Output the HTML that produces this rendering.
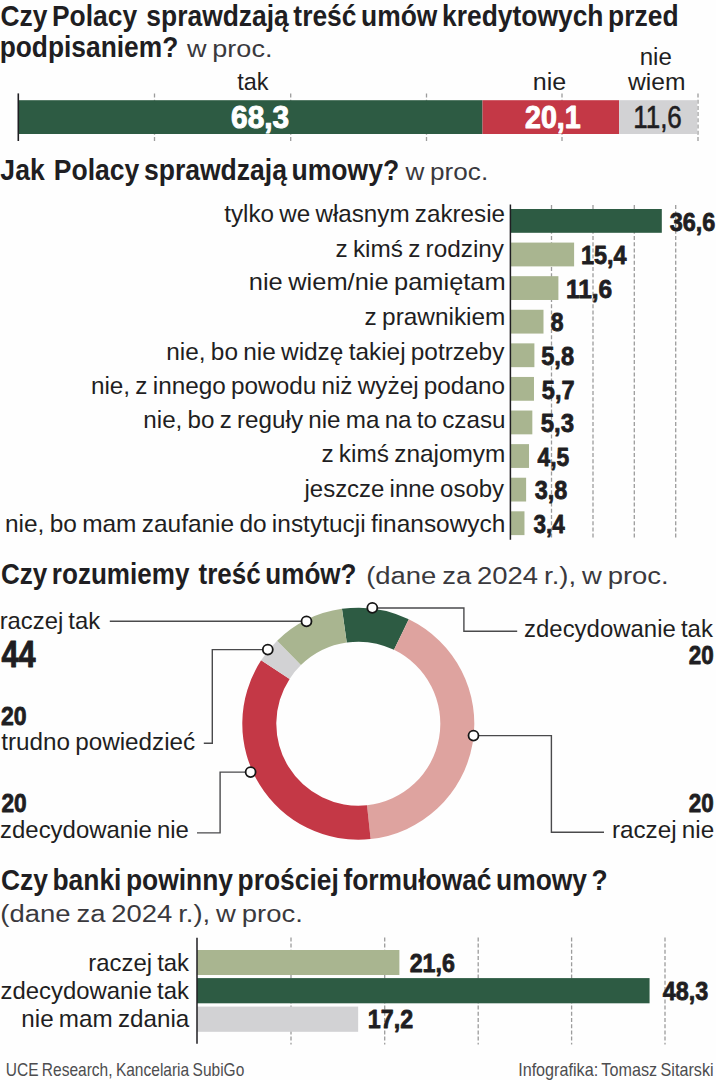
<!DOCTYPE html>
<html><head><meta charset="utf-8"><title>Czy Polacy sprawdzają treść umów</title>
<style>
html,body{margin:0;padding:0;background:#fefefe;}
body{width:716px;height:1080px;overflow:hidden;}
svg{display:block;}
text{font-family:"Liberation Sans",sans-serif;white-space:pre;}
</style></head><body>
<svg width="716" height="1080" viewBox="0 0 716 1080">
<rect x="0" y="0" width="716" height="1080" fill="#fefefe"/>
<line x1="154.50" y1="93.50" x2="154.50" y2="141.00" stroke="#9c9c9c" stroke-width="1.3" stroke-dasharray="4 2.2"/>
<line x1="290.70" y1="93.50" x2="290.70" y2="141.00" stroke="#9c9c9c" stroke-width="1.3" stroke-dasharray="4 2.2"/>
<line x1="426.50" y1="93.50" x2="426.50" y2="141.00" stroke="#9c9c9c" stroke-width="1.3" stroke-dasharray="4 2.2"/>
<line x1="562.00" y1="93.50" x2="562.00" y2="141.00" stroke="#9c9c9c" stroke-width="1.3" stroke-dasharray="4 2.2"/>
<line x1="698.00" y1="93.50" x2="698.00" y2="141.00" stroke="#9c9c9c" stroke-width="1.3" stroke-dasharray="4 2.2"/>
<rect x="18.30" y="100.20" width="464.24" height="33.80" fill="#2d5b43"/>
<rect x="482.54" y="100.20" width="136.62" height="33.80" fill="#c43846"/>
<rect x="619.15" y="100.20" width="78.15" height="33.80" fill="#d2d2d4"/>
<line x1="18.30" y1="93.40" x2="18.30" y2="141.00" stroke="#1f1e22" stroke-width="1.6"/>
<line x1="551.50" y1="205.00" x2="551.50" y2="539.50" stroke="#9c9c9c" stroke-width="1.3" stroke-dasharray="4 2.2"/>
<line x1="593.00" y1="205.00" x2="593.00" y2="539.50" stroke="#9c9c9c" stroke-width="1.3" stroke-dasharray="4 2.2"/>
<line x1="634.30" y1="205.00" x2="634.30" y2="539.50" stroke="#9c9c9c" stroke-width="1.3" stroke-dasharray="4 2.2"/>
<line x1="675.70" y1="205.00" x2="675.70" y2="539.50" stroke="#9c9c9c" stroke-width="1.3" stroke-dasharray="4 2.2"/>
<rect x="510.40" y="209.00" width="151.41" height="23.80" fill="#2d5b43"/>
<rect x="510.40" y="242.59" width="63.71" height="23.80" fill="#a9b590"/>
<rect x="510.40" y="276.18" width="47.99" height="23.80" fill="#a9b590"/>
<rect x="510.40" y="309.77" width="33.10" height="23.80" fill="#a9b590"/>
<rect x="510.40" y="343.36" width="23.99" height="23.80" fill="#a9b590"/>
<rect x="510.40" y="376.95" width="23.58" height="23.80" fill="#a9b590"/>
<rect x="510.40" y="410.54" width="21.93" height="23.80" fill="#a9b590"/>
<rect x="510.40" y="444.13" width="18.62" height="23.80" fill="#a9b590"/>
<rect x="510.40" y="477.72" width="15.72" height="23.80" fill="#a9b590"/>
<rect x="510.40" y="511.31" width="14.07" height="23.80" fill="#a9b590"/>
<line x1="510.40" y1="204.50" x2="510.40" y2="539.80" stroke="#1f1e22" stroke-width="1.5"/>
<line x1="291.00" y1="937.40" x2="291.00" y2="1044.40" stroke="#9c9c9c" stroke-width="1.3" stroke-dasharray="4 2.2"/>
<line x1="384.70" y1="937.40" x2="384.70" y2="1044.40" stroke="#9c9c9c" stroke-width="1.3" stroke-dasharray="4 2.2"/>
<line x1="478.20" y1="937.40" x2="478.20" y2="1044.40" stroke="#9c9c9c" stroke-width="1.3" stroke-dasharray="4 2.2"/>
<line x1="571.60" y1="937.40" x2="571.60" y2="1044.40" stroke="#9c9c9c" stroke-width="1.3" stroke-dasharray="4 2.2"/>
<line x1="665.00" y1="937.40" x2="665.00" y2="1044.40" stroke="#9c9c9c" stroke-width="1.3" stroke-dasharray="4 2.2"/>
<rect x="197.00" y="950.00" width="202.39" height="25.00" fill="#a9b590"/>
<rect x="197.00" y="978.10" width="452.57" height="25.20" fill="#2d5b43"/>
<rect x="197.00" y="1006.60" width="161.16" height="25.20" fill="#d2d2d4"/>
<line x1="197.00" y1="937.70" x2="197.00" y2="1043.80" stroke="#1f1e22" stroke-width="1.5"/>
<path d="M341.96 608.86 A116.0 116.0 0 0 1 408.79 619.26 L393.99 649.87 A82.0 82.0 0 0 0 346.75 642.52Z" fill="#2d5b43"/>
<path d="M408.79 619.26 A116.0 116.0 0 0 1 370.63 839.04 L367.01 805.24 A82.0 82.0 0 0 0 393.99 649.87Z" fill="#dea39f"/>
<path d="M370.63 839.04 A116.0 116.0 0 0 1 261.12 660.35 L289.61 678.92 A82.0 82.0 0 0 0 367.01 805.24Z" fill="#c43846"/>
<path d="M261.12 660.35 A116.0 116.0 0 0 1 277.14 640.82 L300.93 665.11 A82.0 82.0 0 0 0 289.61 678.92Z" fill="#d2d2d4"/>
<path d="M277.14 640.82 A116.0 116.0 0 0 1 341.96 608.86 L346.75 642.52 A82.0 82.0 0 0 0 300.93 665.11Z" fill="#a9b590"/>
<polyline points="372.30,608.00 463.90,608.00 463.90,631.20 517.20,631.20" fill="none" stroke="#4a4a4c" stroke-width="1.4"/>
<polyline points="306.50,621.30 109.80,621.30" fill="none" stroke="#4a4a4c" stroke-width="1.4"/>
<polyline points="267.80,649.60 212.30,649.60 212.30,743.30 203.80,743.30" fill="none" stroke="#4a4a4c" stroke-width="1.4"/>
<polyline points="250.60,772.10 220.10,772.10 220.10,832.90 197.00,832.90" fill="none" stroke="#4a4a4c" stroke-width="1.4"/>
<polyline points="473.50,735.60 551.40,735.60 551.40,832.30 604.00,832.30" fill="none" stroke="#4a4a4c" stroke-width="1.4"/>
<circle cx="372.3" cy="607.8" r="5.0" fill="#fff" stroke="#161616" stroke-width="1.8"/>
<circle cx="306.5" cy="621.3" r="5.0" fill="#fff" stroke="#161616" stroke-width="1.8"/>
<circle cx="267.8" cy="649.6" r="5.0" fill="#fff" stroke="#161616" stroke-width="1.8"/>
<circle cx="250.6" cy="772.1" r="5.0" fill="#fff" stroke="#161616" stroke-width="1.8"/>
<circle cx="473.5" cy="735.6" r="5.0" fill="#fff" stroke="#161616" stroke-width="1.8"/>
<text transform="translate(0.44 25.50) scale(0.8959 1)" font-size="29.5" font-weight="700" fill="#1f1e22" style="word-spacing:-0.105em">Czy Polacy  sprawdzają treść umów kredytowych przed</text>
<text transform="translate(-0.35 57.20) scale(0.8936 1)" font-size="29.5" font-weight="700" fill="#1f1e22" style="word-spacing:-0.105em">podpisaniem?</text>
<text transform="translate(187.00 57.20) scale(1.1265 1)" font-size="24.0" font-weight="400" fill="#3a393d" style="word-spacing:-0.0625em">w proc.</text>
<text transform="translate(237.23 89.80) scale(0.9765 1)" font-size="24.0" font-weight="400" fill="#1f1e22" style="word-spacing:-0.0625em">tak</text>
<text transform="translate(532.84 89.80) scale(1.0451 1)" font-size="24.0" font-weight="400" fill="#1f1e22" style="word-spacing:-0.0625em">nie</text>
<text transform="translate(639.71 65.30) scale(1.0041 1)" font-size="24.0" font-weight="400" fill="#1f1e22" style="word-spacing:-0.0625em">nie</text>
<text transform="translate(628.00 89.80) scale(1.0261 1)" font-size="24.0" font-weight="400" fill="#1f1e22" style="word-spacing:-0.0625em">wiem</text>
<text transform="translate(231.09 128.30) scale(0.9615 1)" font-size="31" font-weight="700" fill="#ffffff" stroke="#ffffff" stroke-width="1.0" stroke-linejoin="round" style="word-spacing:-0.105em">68,3</text>
<text transform="translate(525.00 128.00) scale(0.9230 1)" font-size="31" font-weight="700" fill="#ffffff" stroke="#ffffff" stroke-width="1.0" stroke-linejoin="round" style="word-spacing:-0.105em">20,1</text>
<text transform="translate(633.18 128.00) scale(0.8522 1)" font-size="30.5" font-weight="400" fill="#1f1e22" stroke="#1f1e22" stroke-width="0.6" stroke-linejoin="round" style="word-spacing:-0.0625em">11,6</text>
<text transform="translate(0.37 180.00) scale(0.8999 1)" font-size="29.5" font-weight="700" fill="#1f1e22" style="word-spacing:-0.105em">Jak  Polacy sprawdzają umowy?</text>
<text transform="translate(405.60 180.00) scale(1.0885 1)" font-size="24.0" font-weight="400" fill="#3a393d" style="word-spacing:-0.0625em">w proc.</text>
<text transform="translate(224.22 222.40) scale(1.0093 1)" font-size="24.0" font-weight="400" fill="#1f1e22" style="word-spacing:-0.0625em">tylko we własnym zakresie</text>
<text transform="translate(335.53 256.50) scale(1.0144 1)" font-size="24.0" font-weight="400" fill="#1f1e22" style="word-spacing:-0.0625em">z kimś z rodziny</text>
<text transform="translate(248.82 289.80) scale(1.0601 1)" font-size="24.0" font-weight="400" fill="#1f1e22" style="word-spacing:-0.0625em">nie wiem/nie pamiętam</text>
<text transform="translate(364.62 324.90) scale(1.0170 1)" font-size="24.0" font-weight="400" fill="#1f1e22" style="word-spacing:-0.0625em">z prawnikiem</text>
<text transform="translate(166.29 359.60) scale(1.0167 1)" font-size="24.0" font-weight="400" fill="#1f1e22" style="word-spacing:-0.0625em">nie, bo nie widzę takiej potrzeby</text>
<text transform="translate(90.90 393.80) scale(1.0137 1)" font-size="24.0" font-weight="400" fill="#1f1e22" style="word-spacing:-0.0625em">nie, z innego powodu niż wyżej podano</text>
<text transform="translate(143.30 427.90) scale(1.0093 1)" font-size="24.0" font-weight="400" fill="#1f1e22" style="word-spacing:-0.0625em">nie, bo z reguły nie ma na to czasu</text>
<text transform="translate(321.42 462.00) scale(1.0170 1)" font-size="24.0" font-weight="400" fill="#1f1e22" style="word-spacing:-0.0625em">z kimś znajomym</text>
<text transform="translate(304.48 496.80) scale(0.9992 1)" font-size="24.0" font-weight="400" fill="#1f1e22" style="word-spacing:-0.0625em">jeszcze inne osoby</text>
<text transform="translate(4.99 531.50) scale(1.0192 1)" font-size="24.0" font-weight="400" fill="#1f1e22" style="word-spacing:-0.0625em">nie, bo mam zaufanie do instytucji finansowych</text>
<text transform="translate(669.69 231.40) scale(0.9011 1)" font-size="26" font-weight="700" fill="#1f1e22" stroke="#1f1e22" stroke-width="0.8" stroke-linejoin="round" style="word-spacing:-0.105em">36,6</text>
<text transform="translate(580.96 264.40) scale(0.8998 1)" font-size="26" font-weight="700" fill="#1f1e22" stroke="#1f1e22" stroke-width="0.8" stroke-linejoin="round" style="word-spacing:-0.105em">15,4</text>
<text transform="translate(565.91 297.80) scale(0.9421 1)" font-size="26" font-weight="700" fill="#1f1e22" stroke="#1f1e22" stroke-width="0.8" stroke-linejoin="round" style="word-spacing:-0.105em">11,6</text>
<text transform="translate(550.76 331.40) scale(0.8841 1)" font-size="26" font-weight="700" fill="#1f1e22" stroke="#1f1e22" stroke-width="0.8" stroke-linejoin="round" style="word-spacing:-0.105em">8</text>
<text transform="translate(541.26 364.80) scale(0.9073 1)" font-size="26" font-weight="700" fill="#1f1e22" stroke="#1f1e22" stroke-width="0.8" stroke-linejoin="round" style="word-spacing:-0.105em">5,8</text>
<text transform="translate(541.86 398.50) scale(0.9055 1)" font-size="26" font-weight="700" fill="#1f1e22" stroke="#1f1e22" stroke-width="0.8" stroke-linejoin="round" style="word-spacing:-0.105em">5,7</text>
<text transform="translate(540.65 432.20) scale(0.9226 1)" font-size="26" font-weight="700" fill="#1f1e22" stroke="#1f1e22" stroke-width="0.8" stroke-linejoin="round" style="word-spacing:-0.105em">5,3</text>
<text transform="translate(537.59 465.80) scale(0.8782 1)" font-size="26" font-weight="700" fill="#1f1e22" stroke="#1f1e22" stroke-width="0.8" stroke-linejoin="round" style="word-spacing:-0.105em">4,5</text>
<text transform="translate(534.79 499.40) scale(0.9007 1)" font-size="26" font-weight="700" fill="#1f1e22" stroke="#1f1e22" stroke-width="0.8" stroke-linejoin="round" style="word-spacing:-0.105em">3,8</text>
<text transform="translate(533.40 533.00) scale(0.8649 1)" font-size="26" font-weight="700" fill="#1f1e22" stroke="#1f1e22" stroke-width="0.8" stroke-linejoin="round" style="word-spacing:-0.105em">3,4</text>
<text transform="translate(0.96 583.90) scale(0.8843 1)" font-size="29.5" font-weight="700" fill="#1f1e22" style="word-spacing:-0.105em">Czy rozumiemy  treść umów?</text>
<text transform="translate(366.15 583.50) scale(1.1202 1)" font-size="24.5" font-weight="400" fill="#3a393d" style="word-spacing:-0.0625em">(dane za 2024 r.), w proc.</text>
<text transform="translate(-0.37 629.30) scale(0.9930 1)" font-size="24.0" font-weight="400" fill="#1f1e22" style="word-spacing:-0.0625em">raczej tak</text>
<text transform="translate(1.50 666.50) scale(0.8299 1)" font-size="37" font-weight="700" fill="#1f1e22" stroke="#1f1e22" stroke-width="1.0" stroke-linejoin="round" style="word-spacing:-0.105em">44</text>
<text transform="translate(0.96 724.80) scale(0.8709 1)" font-size="26.5" font-weight="700" fill="#1f1e22" stroke="#1f1e22" stroke-width="0.8" stroke-linejoin="round" style="word-spacing:-0.105em">20</text>
<text transform="translate(1.21 750.30) scale(1.0110 1)" font-size="24.0" font-weight="400" fill="#1f1e22" style="word-spacing:-0.0625em">trudno powiedzieć</text>
<text transform="translate(1.46 812.30) scale(0.8568 1)" font-size="26.5" font-weight="700" fill="#1f1e22" stroke="#1f1e22" stroke-width="0.8" stroke-linejoin="round" style="word-spacing:-0.105em">20</text>
<text transform="translate(0.04 838.30) scale(0.9979 1)" font-size="24.0" font-weight="400" fill="#1f1e22" style="word-spacing:-0.0625em">zdecydowanie nie</text>
<text transform="translate(524.04 636.50) scale(0.9979 1)" font-size="24.0" font-weight="400" fill="#1f1e22" style="word-spacing:-0.0625em">zdecydowanie tak</text>
<text transform="translate(688.67 664.10) scale(0.8463 1)" font-size="26.5" font-weight="700" fill="#1f1e22" stroke="#1f1e22" stroke-width="0.8" stroke-linejoin="round" style="word-spacing:-0.105em">20</text>
<text transform="translate(688.87 812.40) scale(0.8463 1)" font-size="26.5" font-weight="700" fill="#1f1e22" stroke="#1f1e22" stroke-width="0.8" stroke-linejoin="round" style="word-spacing:-0.105em">20</text>
<text transform="translate(611.90 837.80) scale(1.0122 1)" font-size="24.0" font-weight="400" fill="#1f1e22" style="word-spacing:-0.0625em">raczej nie</text>
<text transform="translate(0.94 890.20) scale(0.8954 1)" font-size="29.5" font-weight="700" fill="#1f1e22" style="word-spacing:-0.105em">Czy banki powinny prościej formułować umowy ?</text>
<text transform="translate(0.35 921.50) scale(1.1202 1)" font-size="24.5" font-weight="400" fill="#3a393d" style="word-spacing:-0.0625em">(dane za 2024 r.), w proc.</text>
<text transform="translate(88.33 971.20) scale(0.9960 1)" font-size="24.0" font-weight="400" fill="#1f1e22" style="word-spacing:-0.0625em">raczej tak</text>
<text transform="translate(0.54 999.10) scale(0.9963 1)" font-size="24.0" font-weight="400" fill="#1f1e22" style="word-spacing:-0.0625em">zdecydowanie tak</text>
<text transform="translate(21.30 1027.00) scale(1.0095 1)" font-size="24.0" font-weight="400" fill="#1f1e22" style="word-spacing:-0.0625em">nie mam zdania</text>
<text transform="translate(409.66 971.60) scale(0.8937 1)" font-size="26" font-weight="700" fill="#1f1e22" stroke="#1f1e22" stroke-width="0.8" stroke-linejoin="round" style="word-spacing:-0.105em">21,6</text>
<text transform="translate(662.69 999.80) scale(0.8991 1)" font-size="26" font-weight="700" fill="#1f1e22" stroke="#1f1e22" stroke-width="0.8" stroke-linejoin="round" style="word-spacing:-0.105em">48,3</text>
<text transform="translate(367.86 1027.80) scale(0.8957 1)" font-size="26" font-weight="700" fill="#1f1e22" stroke="#1f1e22" stroke-width="0.8" stroke-linejoin="round" style="word-spacing:-0.105em">17,2</text>
<text transform="translate(5.76 1075.80) scale(0.8869 1)" font-size="17.5" font-weight="400" fill="#4d4d4f" style="word-spacing:-0.0625em">UCE Research, Kancelaria SubiGo</text>
<text transform="translate(518.14 1076.00) scale(0.9249 1)" font-size="17.5" font-weight="400" fill="#4d4d4f" style="word-spacing:-0.0625em">Infografika: Tomasz Sitarski</text>
</svg>
</body></html>
